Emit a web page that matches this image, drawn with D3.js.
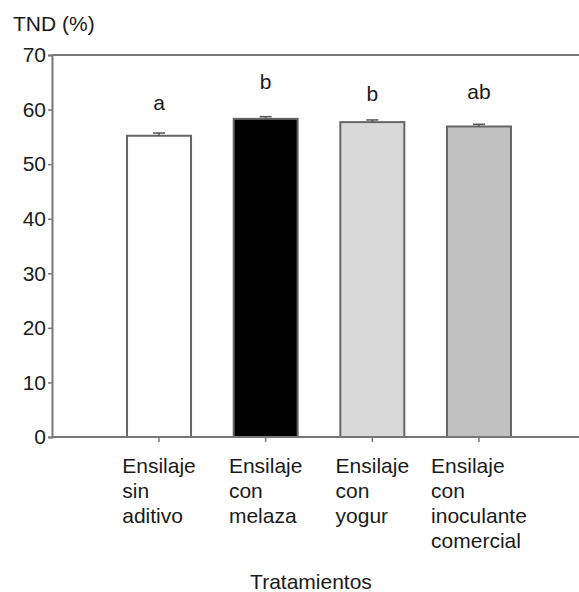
<!DOCTYPE html>
<html lang="es">
<head>
<meta charset="UTF-8">
<title>TND (%)</title>
<script src="https://cdnjs.cloudflare.com/ajax/libs/d3/7.8.5/d3.min.js"></script>
<style>
  body { margin: 0; background: #fff; }
  svg { display: block; }
  text { font-family: "Liberation Sans", Arial, sans-serif; fill: #1a1a1a; }
</style>
</head>
<body>
<svg id="chart" width="579" height="592"></svg>
<script>
    // data
    const treatments = [
        ["Ensilaje", "sin", "aditivo"],
        ["Ensilaje", "con", "melaza"],
        ["Ensilaje", "con", "yogur"],
        ["Ensilaje", "con", "inoculante", "comercial"]
    ];
    const tndValues = [55.2, 58.3, 57.7, 56.9];
    const tndErrors = [0.5, 0.4, 0.4, 0.4];
    const groupLetters = ["a", "b", "b", "ab"];
    const letterLevels = [61.2, 65.1, 63.0, 63.3];
    const barFills = ["#ffffff", "#000000", "#d9d9d9", "#c0c0c0"];
    const yTicks = [0, 10, 20, 30, 40, 50, 60, 70];

    const svg = d3.select("#chart");
    const axisColor = "#777";
    const fontSize = 21;

    const plotLeft = 52, plotRight = 579, plotTop = 55, plotBottom = 437;

    const idx = d3.range(tndValues.length);

    const x = d3.scaleBand()
        .domain(idx)
        .range([105.7, 532.3])
        .paddingInner(0.4)
        .paddingOuter(0.2);

    const y = d3.scaleLinear()
        .domain([0, 70])
        .range([plotBottom, plotTop]);

    // top frame line
    svg.append("line")
        .attr("x1", plotLeft).attr("x2", plotRight)
        .attr("y1", y(70)).attr("y2", y(70))
        .attr("stroke", axisColor).attr("stroke-width", 2);

    // bars
    svg.append("g")
        .selectAll("rect")
        .data(idx)
        .join("rect")
        .attr("x", i => x(i))
        .attr("y", i => y(tndValues[i]))
        .attr("width", x.bandwidth())
        .attr("height", i => y(0) - y(tndValues[i]))
        .attr("fill", i => barFills[i])
        .attr("stroke", "#666")
        .attr("stroke-width", 2);

    // error bars
    const err = svg.append("g").attr("stroke", "#555").attr("stroke-width", 1.5);
    idx.forEach(i => {
        const cx = x(i) + x.bandwidth() / 2;
        err.append("line")
            .attr("x1", cx).attr("x2", cx)
            .attr("y1", y(tndValues[i])).attr("y2", y(tndValues[i] + tndErrors[i]));
        err.append("line")
            .attr("x1", cx - 6).attr("x2", cx + 6)
            .attr("y1", y(tndValues[i] + tndErrors[i])).attr("y2", y(tndValues[i] + tndErrors[i]));
    });

    // significance letters
    svg.append("g")
        .selectAll("text")
        .data(idx)
        .join("text")
        .attr("x", i => x(i) + x.bandwidth() / 2)
        .attr("y", i => y(letterLevels[i]))
        .attr("dy", "0.35em")
        .attr("text-anchor", "middle")
        .style("font-size", fontSize + "px")
        .text(i => groupLetters[i]);

    // y axis
    const yAxis = svg.append("g")
        .attr("transform", `translate(${plotLeft},0)`)
        .call(d3.axisLeft(y).tickValues(yTicks).tickSize(4).tickPadding(2));
    yAxis.select(".domain").attr("stroke", axisColor).attr("stroke-width", 2);
    yAxis.selectAll(".tick line").attr("stroke", axisColor).attr("stroke-width", 1.5);
    yAxis.selectAll(".tick text")
        .attr("fill", "#1a1a1a")
        .style("font-family", '"Liberation Sans", Arial, sans-serif')
        .style("font-size", fontSize + "px");

    // x axis line
    svg.append("line")
        .attr("x1", plotLeft).attr("x2", plotRight)
        .attr("y1", y(0)).attr("y2", y(0))
        .attr("stroke", axisColor).attr("stroke-width", 2);

    // x ticks
    svg.append("g")
        .selectAll("line")
        .data(idx)
        .join("line")
        .attr("x1", i => x(i) + x.bandwidth() / 2)
        .attr("x2", i => x(i) + x.bandwidth() / 2)
        .attr("y1", y(0)).attr("y2", y(0) + 5)
        .attr("stroke", axisColor).attr("stroke-width", 1.5);

    // category labels: left-aligned lines, block centred on the tick
    idx.forEach(i => {
        const cx = x(i) + x.bandwidth() / 2;
        const t = svg.append("text")
            .style("font-size", fontSize + "px")
            .attr("y", 473);
        treatments[i].forEach((line, k) => {
            t.append("tspan")
                .attr("x", 0)
                .attr("dy", k === 0 ? 0 : 25)
                .text(line);
        });
        const w = d3.max(t.selectAll("tspan").nodes(), n => n.getComputedTextLength());
        t.selectAll("tspan").attr("x", cx - w / 2);
    });

    // axis titles
    svg.append("text")
        .attr("x", 13).attr("y", 31)
        .style("font-size", fontSize + "px")
        .text("TND (%)");

    svg.append("text")
        .attr("x", 311).attr("y", 589)
        .attr("text-anchor", "middle")
        .style("font-size", fontSize + "px")
        .text("Tratamientos");
</script>
</body>
</html>
